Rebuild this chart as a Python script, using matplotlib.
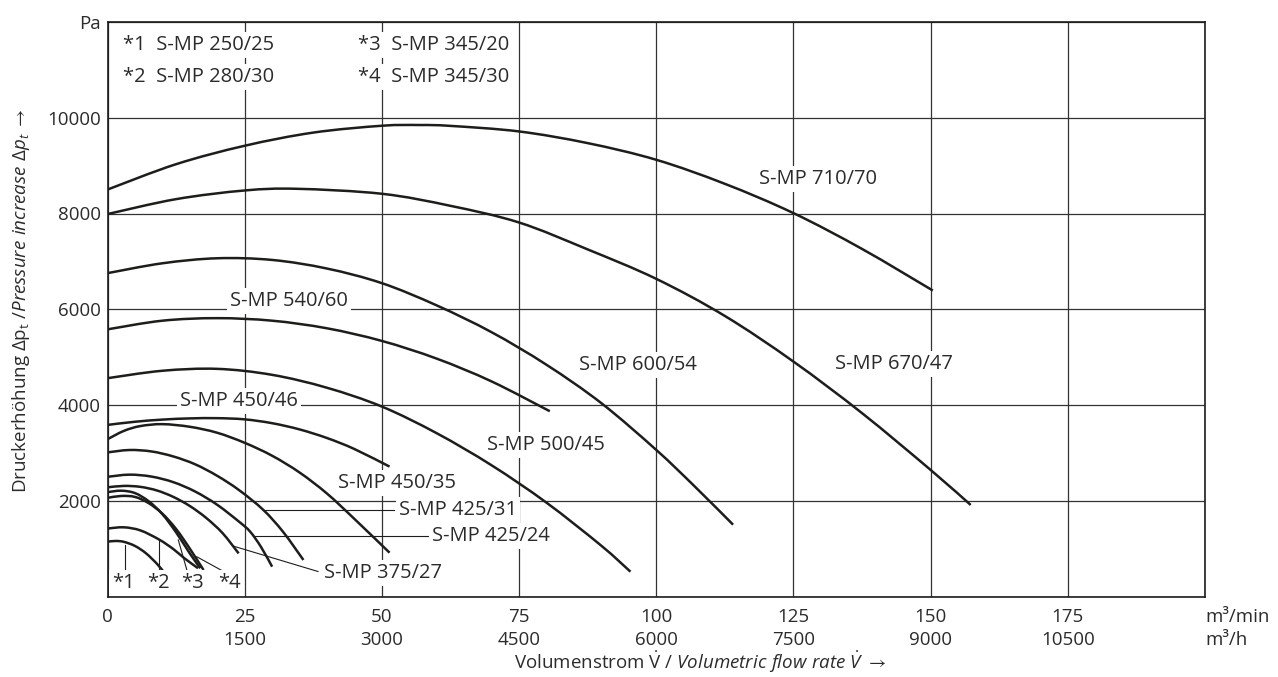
import matplotlib
matplotlib.use("Agg")
import matplotlib.pyplot as plt
from matplotlib.path import Path
from matplotlib.patches import PathPatch

plt.rcParams['font.family'] = ['Open Sans', 'DejaVu Sans']
plt.rcParams['mathtext.fontset'] = 'custom'
plt.rcParams['mathtext.rm'] = 'Open Sans'
plt.rcParams['mathtext.it'] = 'Open Sans:italic'
plt.rcParams['mathtext.bf'] = 'Open Sans:bold'
plt.rcParams['mathtext.fallback'] = 'stixsans'

# ---------------- data ----------------
flow_min_ticks = [0, 25, 50, 75, 100, 125, 150, 175]
flow_h_ticks = ["", "1500", "3000", "4500", "6000", "7500", "9000", "10500"]
pressure_ticks = [2000, 4000, 6000, 8000, 10000]

q_710_70 = [0, 12.5, 25, 37.5, 50, 57, 62.5, 75, 87.5, 100, 112.5, 125, 137.5, 150.4]
p_710_70 = [8500, 9030, 9415, 9690, 9833, 9848, 9830, 9714, 9470, 9122, 8620, 8008, 7260, 6391]

q_670_47 = [0, 12.5, 25, 34.5, 50, 62.5, 75, 87.5, 100, 112.5, 125, 137.5, 150, 157.3]
p_670_47 = [7988, 8300, 8481, 8516, 8412, 8160, 7812, 7250, 6635, 5860, 4907, 3830, 2644, 1912]

q_600_54 = [0, 10, 20, 30, 40, 50, 60, 70, 80, 90, 100, 107, 114]
p_600_54 = [6754, 6960, 7065, 7030, 6850, 6545, 6080, 5520, 4840, 4038, 3062, 2300, 1500]

q_540_60 = [0, 10, 20, 30, 40, 50, 60, 70, 80.6]
p_540_60 = [5580, 5761, 5814, 5761, 5602, 5338, 4968, 4492, 3870]

q_500_45 = [0, 10, 20, 30, 40, 50, 60, 70, 80, 90, 95.3]
p_500_45 = [4560, 4715, 4755, 4630, 4360, 3967, 3410, 2740, 1960, 1060, 518]

q_450_35 = [0, 5, 10, 15, 20, 25, 30, 35, 40, 45, 51.4]
p_450_35 = [3584, 3650, 3695, 3720, 3725, 3700, 3620, 3490, 3310, 3080, 2713]

q_450_46 = [0, 3, 6, 10, 15, 20, 25, 30, 35, 40, 45, 51.4]
p_450_46 = [3285, 3460, 3560, 3600, 3545, 3420, 3210, 2940, 2590, 2150, 1620, 915]

q_425_31 = [0, 4, 8, 12, 16, 20, 24, 28.4, 32, 35.7]
p_425_31 = [3010, 3060, 3030, 2925, 2760, 2520, 2220, 1808, 1350, 763]

q_425_24 = [0, 4, 8, 12, 16, 20, 24, 26, 28, 30]
p_425_24 = [2500, 2545, 2505, 2388, 2191, 1915, 1560, 1354, 1030, 623]

q_375_27 = [0, 3, 6, 9, 12, 15, 18, 21, 23.9]
p_375_27 = [2280, 2310, 2290, 2215, 2080, 1890, 1640, 1320, 900]

q_345_20 = [0, 2.5, 5, 7.5, 10, 12.5, 15, 16.9]
p_345_20 = [2180, 2210, 2160, 1990, 1720, 1340, 900, 589]

q_345_30 = [0, 2.5, 5, 7.5, 10, 12.5, 15, 17.5]
p_345_30 = [2060, 2100, 2080, 1950, 1730, 1410, 1000, 554]

q_280_30 = [0, 3, 6, 9.4, 12, 14, 16.5]
p_280_30 = [1420, 1445, 1380, 1190, 990, 800, 590]

q_250_25 = [0, 1.5, 3, 5, 7, 9, 10.2]
p_250_25 = [1145, 1160, 1141, 1056, 904, 684, 519]

curves_q = [q_710_70, q_670_47, q_600_54, q_540_60, q_500_45, q_450_35, q_450_46,
            q_425_31, q_425_24, q_375_27, q_345_20, q_345_30, q_280_30, q_250_25]
curves_p = [p_710_70, p_670_47, p_600_54, p_540_60, p_500_45, p_450_35, p_450_46,
            p_425_31, p_425_24, p_375_27, p_345_20, p_345_30, p_280_30, p_250_25]

legend_rows = ["*1  S-MP 250/25", "*2  S-MP 280/30", "*3  S-MP 345/20", "*4  S-MP 345/30"]

# ---------------- figure ----------------
W, H = 1278, 677
fig = plt.figure(figsize=(W / 100, H / 100), dpi=100)
L, R, T, B = 107.5, 1205, 22, 596.5
ax = fig.add_axes([L / W, (H - B) / H, (R - L) / W, (B - T) / H])
ax.set_xlim(0, 200)
ax.set_ylim(0, 12000)

ink = '#1d1d1b'
txt = '#2b2b2b'
fs = 13.5
fl = 14.5

for s in ax.spines.values():
    s.set_color(ink)
    s.set_linewidth(1.2)
    s.set_zorder(8)

ax.set_xticks(range(0, 201, 25))
ax.set_yticks(range(0, 12001, 2000))
ax.grid(True, color='#333333', linewidth=0.9, zorder=0)
ax.set_axisbelow(True)
ax.tick_params(length=0)
ax.set_xticklabels([])
ax.set_yticklabels([""] + [str(v) for v in pressure_ticks] + ["Pa"], fontsize=fs, color=txt)
ax.tick_params(axis='y', pad=5)

for m, h in zip(flow_min_ticks, flow_h_ticks):
    ax.annotate(str(m), xy=(m, 0), xycoords=('data', 'axes fraction'), xytext=(0, -20.5 * 0.72),
                textcoords='offset points', ha='center', va='center', fontsize=fs, color=txt)
    if h:
        ax.annotate(h, xy=(m, 0), xycoords=('data', 'axes fraction'), xytext=(0, -43.5 * 0.72),
                    textcoords='offset points', ha='center', va='center', fontsize=fs, color=txt)
ax.annotate("m³/min", xy=(200, 0), xycoords=('data', 'axes fraction'), xytext=(0, -20.5 * 0.72),
            textcoords='offset points', ha='left', va='center', fontsize=fs, color=txt)
ax.annotate("m³/h", xy=(200, 0), xycoords=('data', 'axes fraction'), xytext=(0, -43.5 * 0.72),
            textcoords='offset points', ha='left', va='center', fontsize=fs, color=txt)

fig.text(700 / W, 1 - 662 / H,
         r"Volumenstrom $\dot{\mathrm{V}}$ / $\mathit{Volumetric\ flow\ rate\ \dot{V}}$ $\rightarrow$",
         ha='center', va='center', fontsize=fs, color=txt)
fig.text(21 / W, 1 - 301 / H,
         r"Druckerhöhung $\mathrm{\Delta p_t}$ /$\mathit{Pressure\ increase\ \Delta p_t}$ $\rightarrow$",
         ha='center', va='center', rotation=90, fontsize=fs, color=txt)


# curves: smooth path (Catmull-Rom) through the read points
def smooth_path(q, p):
    pts = list(zip(q, p))
    n = len(pts)
    verts = [pts[0]]
    codes = [Path.MOVETO]
    for i in range(n - 1):
        p0 = pts[i - 1] if i > 0 else pts[i]
        p1 = pts[i]
        p2 = pts[i + 1]
        p3 = pts[i + 2] if i + 2 < n else pts[i + 1]
        c1 = (p1[0] + (p2[0] - p0[0]) / 6.0, p1[1] + (p2[1] - p0[1]) / 6.0)
        c2 = (p2[0] - (p3[0] - p1[0]) / 6.0, p2[1] - (p3[1] - p1[1]) / 6.0)
        verts += [c1, c2, p2]
        codes += [Path.CURVE4, Path.CURVE4, Path.CURVE4]
    return Path(verts, codes)


for q, p in zip(curves_q, curves_p):
    ax.add_patch(PathPatch(smooth_path(q, p), facecolor='none', edgecolor=ink,
                           linewidth=1.8, capstyle='butt', joinstyle='round', zorder=3))


def px(xp, yp):
    return ((xp - L) / (R - L) * 200, (B - yp) / (B - T) * 12000)


box = dict(boxstyle='square,pad=0.15', facecolor='white', edgecolor='none')


def label(s, xp, yp, ha='center', size=fl):
    x, y = px(xp, yp)
    ax.text(x, y, s, ha=ha, va='center', fontsize=size, color=txt, bbox=box, zorder=5)


label("S-MP 710/70", 818, 179)
label("S-MP 670/47", 894, 364)
label("S-MP 600/54", 638, 365)
label("S-MP 500/45", 546, 445)
label("S-MP 540/60", 289, 301)
label("S-MP 450/46", 239, 401)
label("S-MP 450/35", 397, 483)
label("S-MP 425/31", 399, 510, ha='left')
label("S-MP 425/24", 432, 536, ha='left')
label("S-MP 375/27", 324, 573, ha='left')

for i, s in enumerate(["*1", "*2", "*3", "*4"]):
    label(s, [123, 158, 193, 229][i], 583)


# leader lines
def leader(x0, y0, x1, y1):
    a = px(x0, y0)
    b = px(x1, y1)
    ax.plot([a[0], b[0]], [a[1], b[1]], color=ink, linewidth=0.8, zorder=4)


leader(263, 510, 394, 510)
leader(253, 535.7, 428, 535.7)
leader(233, 546, 318, 571.5)
leader(125, 545, 125, 571)
leader(159.3, 540, 159.3, 572)
leader(178.3, 540, 188.3, 575)
leader(196.7, 556.7, 230, 575)

# legend block
for s, (xp, yp) in zip(legend_rows, [(123, 45), (123, 77), (358, 45), (358, 77)]):
    label(s, xp, yp, ha='left')

fig.savefig("out.png", dpi=100)
